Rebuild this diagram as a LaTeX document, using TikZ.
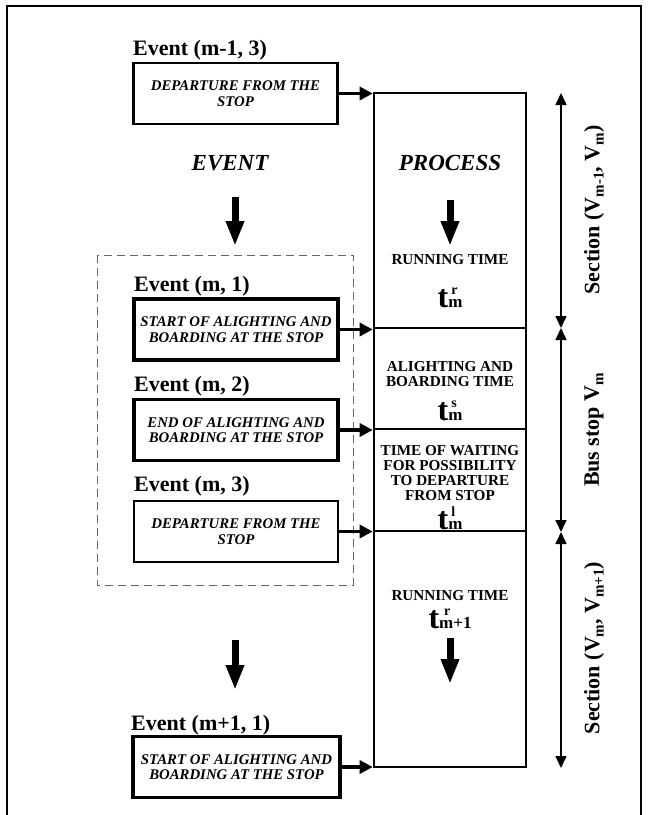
\documentclass[tikz,border=0pt]{standalone}
\usepackage{fontspec}
\setmainfont{Liberation Serif}
\usetikzlibrary{arrows.meta}
\newcommand\tsym[3][3pt]{{\fontsize{32}{32}\selectfont t}\rlap{\hspace{#1}\raisebox{13pt}{\fontsize{14}{14}\selectfont #2}}{\fontsize{17}{17}\selectfont #3}}
\newcommand\subs[1]{\raisebox{-0.2em}{\fontsize{15}{15}\selectfont #1}}
\begin{document}
\begin{tikzpicture}[x=1pt,y=-1pt,
  evbox/.style={draw, line width=2.2pt, minimum width=204pt, minimum height=61pt, inner sep=0pt, align=center,
    font=\fontsize{14.8}{15.5}\selectfont\bfseries\itshape},
  evboxthick/.style={evbox, line width=3.4pt},
  evlabel/.style={anchor=base west, inner sep=0pt, font=\fontsize{22}{22}\selectfont\bfseries},
  head/.style={anchor=center, font=\fontsize{23}{23}\selectfont\bfseries\itshape},
  procpart/.style={draw, line width=2.6pt, minimum width=152pt, inner sep=0pt},
  proctext/.style={align=center, inner sep=0pt, font=\fontsize{15.2}{15}\selectfont\bfseries},
  tnode/.style={inner sep=0pt, font=\bfseries},
  conn/.style={line width=3.5pt, -{Triangle[length=13pt,width=13pt]}},
  bigdown/.style={line width=7pt, -{Triangle[length=25pt,width=17pt]}},
  span/.style={line width=1.6pt, {Triangle[length=12pt,width=11pt]}-{Triangle[length=12pt,width=11pt]}},
  sect/.style={rotate=90, inner sep=0pt, font=\fontsize{22}{22}\selectfont\bfseries}
]
\useasboundingbox (0,0) rectangle (650,815);
% frame
\draw[line width=2pt] (7,815) -- (7,6) -- (641,6) -- (641,815);

% dashed group
\draw[dashed, gray!80!black, line width=1pt, dash pattern=on 8pt off 5pt] (97,255) rectangle (353,585);

% event labels
\node[evlabel] (lA) at (133,55) {Event (m-1, 3)};
\node[evlabel] (l1) at (134,291) {Event (m, 1)};
\node[evlabel] (l2) at (134,391) {Event (m, 2)};
\node[evlabel] (l3) at (134,491) {Event (m, 3)};
\node[evlabel] (l4) at (131,730) {Event (m+1, 1)};

% event boxes
\node[evbox] (bA) at (235.5,93.5) {DEPARTURE FROM THE\\STOP};
\node[evboxthick] (b1) at (236,329.5) {START OF ALIGHTING AND\\BOARDING AT THE STOP};
\node[evboxthick] (b2) at (236,430) {END OF ALIGHTING AND\\BOARDING AT THE STOP};
\node[evbox] (b3) at (236,531.5) {DEPARTURE FROM THE\\STOP};
\node[evboxthick, minimum width=207pt] (b4) at (236.5,767) {START OF ALIGHTING AND\\BOARDING AT THE STOP};

% process parts
\node[procpart, minimum height=235pt] (p1) at (450,210.5) {};
\node[procpart, minimum height=101pt] (p2) at (450,378.5) {};
\node[procpart, minimum height=102pt] (p3) at (450,480) {};
\node[procpart, minimum height=236pt] (p4) at (450,649) {};

% headings
\node[head] (hE) at (230,163) {EVENT};
\node[head] (hP) at (450,163) {PROCESS};

% process texts
\node[proctext] (r1) at (450,260) {RUNNING TIME};
\node[tnode] (t1) at (450,298) {\tsym{r}{m}};
\node[proctext] (ab) at (450,374) {ALIGHTING AND\\BOARDING TIME};
\node[tnode] (t2) at (450,411) {\tsym{s}{m}};
\node[proctext] (wt) at (450,473.5) {TIME OF WAITING\\FOR POSSIBILITY\\TO DEPARTURE\\FROM STOP};
\node[tnode] (t3) at (450,518) {\tsym{l}{m}};
\node[proctext] (r2) at (450,596) {RUNNING TIME};
\node[tnode] (t4) at (450,619) {\tsym[5pt]{r}{m+1}};

% down arrows
\coordinate (eA) at (235,197); \coordinate (eB) at (235,246);
\coordinate (pA) at (450,200); \coordinate (pB) at (450,246);
\coordinate (eC) at (235,640); \coordinate (eD) at (235,690);
\coordinate (pC) at (450,638); \coordinate (pD) at (450,684);
\draw[bigdown] (eA) -- (eB);
\draw[bigdown] (pA) -- (pB);
\draw[bigdown] (eC) -- (eD);
\draw[bigdown] (pC) -- (pD);

% connectors
\draw[conn] (bA.east) -- (bA.east -| p1.west);
\draw[conn] (b1.east) -- (b1.east -| p1.west);
\draw[conn] (b2.east) -- (b2.east -| p2.west);
\draw[conn] (b3.east) -- (b3.east -| p3.west);
\draw[conn] (b4.east) -- (b4.east -| p4.west);

% spans
\coordinate (s0) at (561,93);
\coordinate (s1) at (561,328);
\coordinate (s2) at (561,532);
\coordinate (s3) at (561,768);
\draw[span] (s0) -- (s1);
\draw[span] (s1) -- (s2);
\draw[span] (s2) -- (s3);

\node[sect] (q1) at (594,210) {Section (V\subs{m-1}, V\subs{m})};
\node[sect] (q2) at (594,430) {Bus stop V\subs{m}};
\node[sect] (q3) at (594,648) {Section (V\subs{m}, V\subs{m+1})};
\end{tikzpicture}
\end{document}
